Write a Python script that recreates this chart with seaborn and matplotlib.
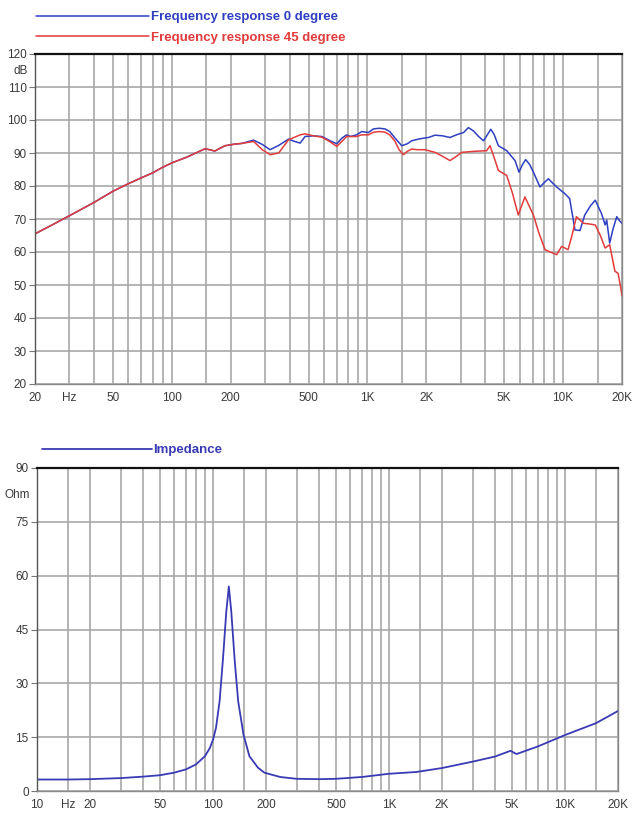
import matplotlib
matplotlib.use('Agg')
import matplotlib.pyplot as plt
import seaborn as sns

sns.set_theme(style='white')
plt.rcParams['font.family'] = ['Liberation Sans', 'DejaVu Sans']

# Frequency response, 0 degree (Hz, dB)
freq_0 = [20, 25, 30, 40, 50, 60, 70, 80, 90, 100,
          120, 135, 148, 166, 187, 210, 228, 262, 290, 318,
          352, 395, 425, 453, 480, 530, 585, 640, 697, 740,
          783, 820, 880, 935, 1011, 1074, 1150, 1230, 1300, 1385,
          1497, 1600, 1683, 1850, 2050, 2215, 2420, 2642, 2850, 3100,
          3280, 3480, 3700, 3920, 4100, 4270, 4450, 4670, 5150, 5680,
          5950, 6200, 6440, 6750, 7050, 7620, 8000, 8410, 8800, 9270,
          10200, 10800, 11500, 12200, 12900, 13800, 14600, 15700, 16400, 16700,
          17300, 18000, 18800, 19400, 20000]
spl_0 = [65.5, 68.5, 71, 75, 78.4, 80.7, 82.5, 84, 85.7, 87,
         88.8, 90.2, 91.3, 90.6, 92.2, 92.7, 92.9, 93.9, 92.6, 91,
         92.3, 94.2, 93.5, 93, 95, 95.2, 95, 93.8, 92.8, 94.5,
         95.5, 95, 95.5, 96.5, 96.2, 97.3, 97.5, 97.3, 96.5, 94.5,
         92.2, 92.8, 93.7, 94.3, 94.7, 95.4, 95.2, 94.7, 95.5, 96.2,
         97.7, 96.7, 95, 93.7, 95.5, 97.2, 95.5, 92.2, 90.7, 87.7,
         84.2, 86.5, 88, 86.5, 84.2, 79.7, 81, 82.2, 81, 79.7,
         77.7, 76.2, 66.7, 66.5, 71.2, 74, 75.7, 71.7, 68.2, 69.7,
         62.7, 67, 70.7, 69.5, 68.7]

# Frequency response, 45 degree (Hz, dB)
freq_45 = [20, 25, 30, 40, 50, 60, 70, 80, 90, 100,
           120, 135, 148, 166, 187, 210, 228, 262, 290, 318,
           352, 395, 453, 480, 530, 585, 640, 697, 740, 783,
           880, 935, 1011, 1074, 1150, 1230, 1300, 1385, 1450, 1528,
           1600, 1683, 1800, 1969, 2215, 2420, 2642, 2850, 3033, 3500,
           4066, 4230, 4450, 4670, 5150, 5500, 5900, 6380, 6700, 7050,
           7500, 8080, 8600, 9270, 9830, 10600, 11100, 11700, 12700, 13600,
           14600, 15500, 16400, 17300, 18000, 18400, 19100, 19600, 20000]
spl_45 = [65.5, 68.5, 71, 75, 78.4, 80.7, 82.5, 84, 85.7, 87,
          88.8, 90.2, 91.3, 90.6, 92.2, 92.7, 92.9, 93.5, 91, 89.5,
          90, 94, 95.5, 95.8, 95.2, 94.8, 93.5, 92, 93.5, 95,
          95, 95.5, 95.5, 96.3, 96.5, 96.3, 95.5, 93.5, 91, 89.5,
          90.5, 91.2, 91, 91, 90.2, 89, 87.7, 89, 90.2, 90.5,
          90.7, 92.2, 88.5, 84.7, 83.2, 78, 71.2, 76.7, 74, 71.2,
          66, 60.7, 60, 59.2, 61.7, 60.7, 65, 70.7, 68.7, 68.5,
          68.2, 65, 61.2, 62.2, 57, 54.2, 53.5, 50, 46.7]

# Impedance (Hz, Ohm)
imp_freq = [10, 15, 20, 30, 40, 50, 60, 70, 80, 90,
            96, 100, 104, 109, 114, 119, 123, 127, 133, 139,
            149, 161, 180, 196, 241, 298, 400, 500, 700, 1000,
            1430, 2000, 3000, 4000, 4900, 5300, 7000, 10000, 15000, 20000]
imp_ohm = [3.2, 3.2, 3.3, 3.6, 4.0, 4.4, 5.1, 6.0, 7.4, 9.7,
           12, 14.3, 17.6, 25, 37, 50, 57, 50, 36, 25,
           15.7, 9.7, 6.5, 5.1, 3.9, 3.4, 3.3, 3.4, 3.9, 4.8,
           5.3, 6.4, 8.2, 9.6, 11.2, 10.3, 12.4, 15.6, 18.9, 22.3]

# axis labels
top_xticks = [20, 30, 50, 100, 200, 500, 1000, 2000, 5000, 10000, 20000]
top_xlabels = ['20', 'Hz', '50', '100', '200', '500', '1K', '2K', '5K', '10K', '20K']
bot_xticks = [10, 15, 20, 50, 100, 200, 500, 1000, 2000, 5000, 10000, 20000]
bot_xlabels = ['10', 'Hz', '20', '50', '100', '200', '500', '1K', '2K', '5K', '10K', '20K']
grid_freqs = [15, 20, 30, 40, 50, 60, 70, 80, 90, 100, 150,
              200, 300, 400, 500, 600, 700, 800, 900, 1000, 1500,
              2000, 3000, 4000, 5000, 6000, 7000, 8000, 9000, 10000, 15000, 20000]
top_yticks = list(range(20, 121, 10))
bot_yticks = list(range(0, 91, 15))

blue = '#2f3fc2'
red = '#e23b3b'
imp_col = '#3a3ab4'
grid_col = '#a8a8a8'
text_col = '#3a3a3a'

fig = plt.figure(figsize=(6.4, 8.14), dpi=100)
W, H = 640, 814
ax1 = fig.add_axes([35 / W, 1 - 384 / H, 587 / W, 330 / H])
ax2 = fig.add_axes([37 / W, 1 - 791 / H, 581 / W, 323 / H])


def style_axis(ax, xmin, xmax, ymin, ymax, xticks, xlabels, yticks, unit, unit_y):
    ax.set_xscale('log')
    ax.set_xlim(xmin, xmax)
    ax.set_ylim(ymin, ymax)
    ax.xaxis.remove_overlapping_locs = False
    ax.xaxis.set_minor_locator(matplotlib.ticker.FixedLocator(
        [f for f in grid_freqs if xmin <= f <= xmax]))
    ax.xaxis.set_minor_formatter(matplotlib.ticker.NullFormatter())
    ax.set_xticks(xticks)
    ax.set_xticklabels(xlabels)
    ax.set_yticks(yticks)
    ax.grid(False)
    ax.grid(True, which='minor', axis='x', color=grid_col, lw=1.2)
    ax.grid(True, which='major', axis='y', color=grid_col, lw=1.2)
    ax.tick_params(axis='x', which='both', length=0, labelsize=8.5,
                   labelcolor=text_col, pad=6)
    ax.tick_params(axis='y', length=4, width=0.8, color='#777777',
                   labelsize=8.5, labelcolor=text_col, pad=2, left=True)
    for s in ['left', 'right', 'bottom']:
        ax.spines[s].set_color('#8a8a8a')
        ax.spines[s].set_linewidth(1.0)
    ax.spines['left'].set_color('#555555')
    ax.spines['top'].set_color('#111111')
    ax.spines['top'].set_linewidth(1.6)
    ax.text(-0.012, unit_y, unit, transform=ax.get_yaxis_transform(),
            ha='right', va='center', fontsize=8.5, color=text_col)
    ax.set_xlabel('')
    ax.set_ylabel('')


# top: frequency response
sns.lineplot(x=freq_0, y=spl_0, ax=ax1, color=blue, lw=1.1,
             label='Frequency response 0 degree')
sns.lineplot(x=freq_45, y=spl_45, ax=ax1, color=red, lw=1.1,
             label='Frequency response 45 degree')
style_axis(ax1, 20, 20000, 20, 120, top_xticks, top_xlabels, top_yticks, 'dB', 115)
ax1.legend(loc='upper left', bbox_to_anchor=(36 / W, 1 - 11 / H),
           bbox_transform=fig.transFigure, frameon=False, borderpad=0,
           borderaxespad=0, handlelength=8.6, handletextpad=0.15,
           labelspacing=0.62, labelcolor='linecolor',
           prop={'size': 9.5, 'weight': 'bold'})

# bottom: impedance
sns.lineplot(x=imp_freq, y=imp_ohm, ax=ax2, color=imp_col, lw=1.3,
             label='Impedance')
style_axis(ax2, 10, 20000, 0, 90, bot_xticks, bot_xlabels, bot_yticks, 'Ohm', 82.5)
ax2.legend(loc='upper left', bbox_to_anchor=(42 / W, 1 - 444 / H),
           bbox_transform=fig.transFigure, frameon=False, borderpad=0,
           borderaxespad=0, handlelength=8.3, handletextpad=0.15,
           labelcolor='linecolor', prop={'size': 9.5, 'weight': 'bold'})

fig.savefig('out.png', dpi=100)
